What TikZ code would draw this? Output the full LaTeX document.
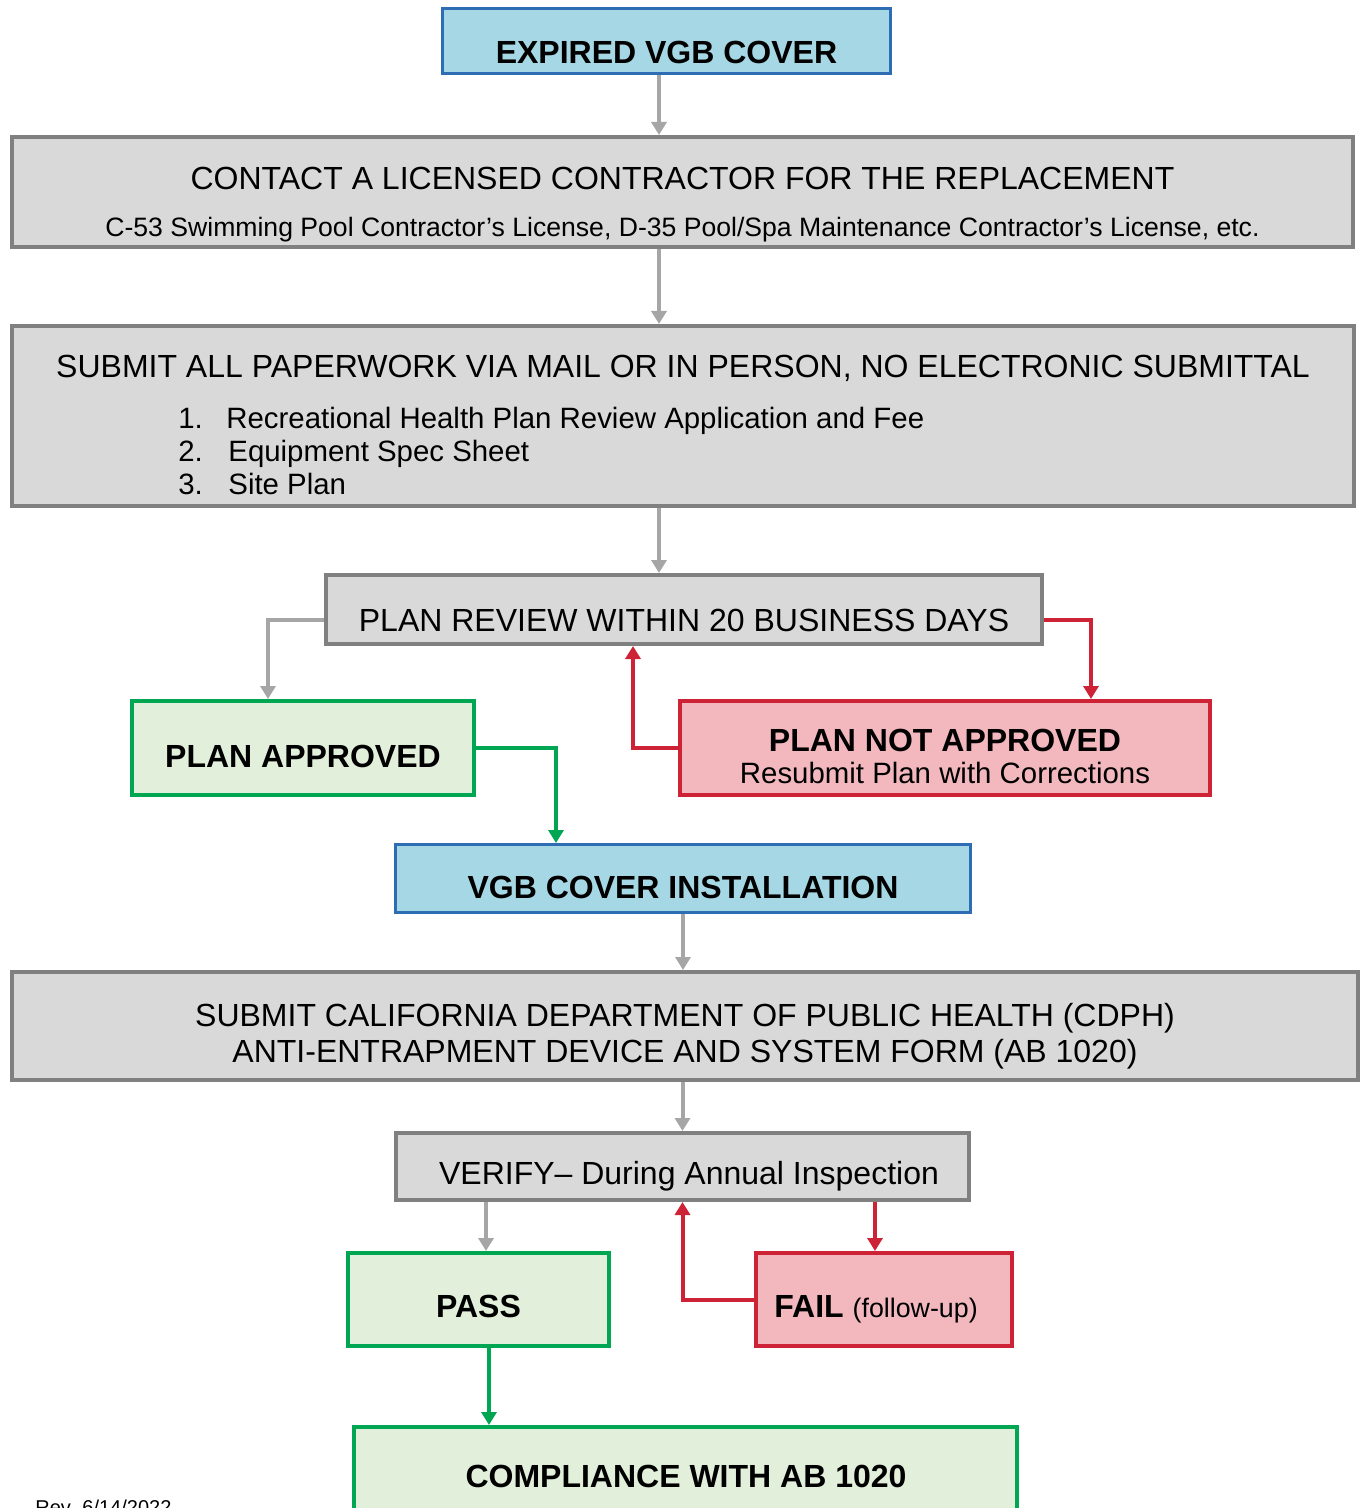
\documentclass[tikz,border=0pt]{standalone}
\usepackage{fontspec}
\setmainfont{Liberation Sans}
\usetikzlibrary{arrows.meta}

\definecolor{coverfill}{HTML}{A6D7E4}
\definecolor{coverline}{HTML}{2E6DB4}
\definecolor{stepfill}{HTML}{D9D9D9}
\definecolor{stepline}{HTML}{808080}
\definecolor{flowgrey}{HTML}{A6A6A6}
\definecolor{okfill}{HTML}{E2EFDA}
\definecolor{okline}{HTML}{00A651}
\definecolor{badfill}{HTML}{F2B8BE}
\definecolor{badline}{HTML}{CE2236}

\tikzset{
    box/.style={draw, inner sep=0pt, line width=1.5pt},
    coverbox/.style={box, fill=coverfill, draw=coverline},
    greybox/.style={box, fill=stepfill, draw=stepline, line width=2pt},
    okbox/.style={box, fill=okfill, draw=okline, line width=2pt},
    badbox/.style={box, fill=badfill, draw=badline, line width=2pt},
    txt/.style={anchor=base, inner sep=0pt, font=\fontsize{16pt}{19pt}\selectfont},
    btxt/.style={txt, font=\fontsize{16pt}{19pt}\selectfont\bfseries},
    smalltxt/.style={txt, font=\fontsize{13.3pt}{16pt}\selectfont},
    itemtxt/.style={txt, anchor=base west, font=\fontsize{14.7pt}{17pt}\selectfont},
    flow/.style={-{Triangle[width=7.5pt,length=6.5pt]}, line width=2pt, draw=flowgrey},
    yesflow/.style={flow, draw=okline},
    noflow/.style={flow, draw=badline},
}

\begin{document}
\begin{tikzpicture}[x=0.5pt, y=-0.5pt]
    \useasboundingbox (0,0) rectangle (1364,1508);

    % boxes
    \node[coverbox, minimum width=224pt, minimum height=32.5pt] (expired) at (666.5,41) {};
    \node[greybox, minimum width=670.5pt, minimum height=55pt] (contact) at (682.5,192) {};
    \node[greybox, minimum width=671pt, minimum height=90pt] (submit) at (683,416) {};
    \node[greybox, minimum width=358pt, minimum height=34.5pt] (review) at (684,609.5) {};
    \node[okbox, minimum width=171pt, minimum height=47pt] (approved) at (303,748) {};
    \node[badbox, minimum width=265pt, minimum height=47pt] (rejected) at (945,748) {};
    \node[coverbox, minimum width=287.5pt, minimum height=34pt] (install) at (683,878.5) {};
    \node[greybox, minimum width=673pt, minimum height=54pt] (cdph) at (685,1026) {};
    \node[greybox, minimum width=286.5pt, minimum height=33.5pt] (verify) at (682.5,1166.5) {};
    \node[okbox, minimum width=130.5pt, minimum height=46.5pt] (pass) at (478.5,1299.5) {};
    \node[badbox, minimum width=128pt, minimum height=46.5pt] (fail) at (884,1299.5) {};
    \node[okbox, minimum width=331.5pt, minimum height=60pt] (comply) at (685.5,1487) {};

    % texts
    \node[btxt] (expiredT) at (666.5,64) {EXPIRED VGB COVER};
    \node[txt] (contactT) at (682.5,190) {CONTACT A LICENSED CONTRACTOR FOR THE REPLACEMENT};
    \node[smalltxt] (contactS) at (682.5,237) {C-53 Swimming Pool Contractor’s License, D-35 Pool/Spa Maintenance Contractor’s License, etc.};
    \node[txt] (submitT) at (683,378) {SUBMIT ALL PAPERWORK VIA MAIL OR IN PERSON, NO ELECTRONIC SUBMITTAL};
    \node[itemtxt] (num1) at (178,428) {1.};
    \node[itemtxt] (item1) at (226,428) {Recreational Health Plan Review Application and Fee};
    \node[itemtxt] (num2) at (178,461) {2.};
    \node[itemtxt] (item2) at (228,461) {Equipment Spec Sheet};
    \node[itemtxt] (num3) at (178,494) {3.};
    \node[itemtxt] (item3) at (228,494) {Site Plan};
    \node[txt] (reviewT) at (684,631) {PLAN REVIEW WITHIN 20 BUSINESS DAYS};
    \node[btxt] (approvedT) at (303,767) {PLAN APPROVED};
    \node[btxt] (rejectedT) at (945,751) {PLAN NOT APPROVED};
    \node[txt, font=\fontsize{14.7pt}{17pt}\selectfont] (rejectedS) at (945,783) {Resubmit Plan with Corrections};
    \node[btxt] (installT) at (683,898) {VGB COVER INSTALLATION};
    \node[txt] (cdphT) at (685,1026) {SUBMIT CALIFORNIA DEPARTMENT OF PUBLIC HEALTH (CDPH)};
    \node[txt] (cdphS) at (685,1062) {ANTI-ENTRAPMENT DEVICE AND SYSTEM FORM (AB 1020)};
    \node[txt] (verifyT) at (689,1184) {VERIFY– During Annual Inspection};
    \node[btxt] (passT) at (478.5,1317) {PASS};
    \node[btxt, anchor=base west] (failT) at (774,1317) {FAIL {\mdseries\fontsize{13.4pt}{16pt}\selectfont(follow-up)}};
    \node[btxt] (complyT) at (686,1487) {COMPLIANCE WITH AB 1020};
    \node[txt, anchor=base west, font=\fontsize{10pt}{12pt}\selectfont] (rev) at (35,1514) {Rev. 6/14/2022};

    % connectors
    \draw[flow] ([xshift=-3.75pt]expired.south) -- ([xshift=-3.75pt]expired.south |- contact.north);
    \draw[flow] ([xshift=-11.75pt]contact.south) -- ([xshift=-11.75pt]contact.south |- submit.north);
    \draw[flow] ([xshift=-12pt]submit.south) -- ([xshift=-12pt]submit.south |- review.north);
    \draw[flow] ([yshift=-5.25pt]review.west) -| ([xshift=-17.5pt]approved.north);
    \draw[noflow] ([yshift=-5.25pt]review.east) -| ([xshift=73pt]rejected.north);
    \draw[noflow] (rejected.west) -| ([xshift=-25.5pt]review.south);
    \draw[yesflow] (approved.east) -| ([xshift=-63.5pt]install.north);
    \draw[flow] (install.south) -- (install.south |- cdph.north);
    \draw[flow] (cdph.south -| verify.south) -- (verify.north);
    \draw[flow] ([xshift=3.75pt]pass.north |- verify.south) -- ([xshift=3.75pt]pass.north);
    \draw[noflow] ([xshift=-4.5pt]fail.north |- verify.south) -- ([xshift=-4.5pt]fail.north);
    \draw[noflow] (fail.west) -| (verify.south);
    \draw[yesflow] ([xshift=5.25pt]pass.south) -- ([xshift=5.25pt]pass.south |- comply.north);
\end{tikzpicture}
\end{document}
